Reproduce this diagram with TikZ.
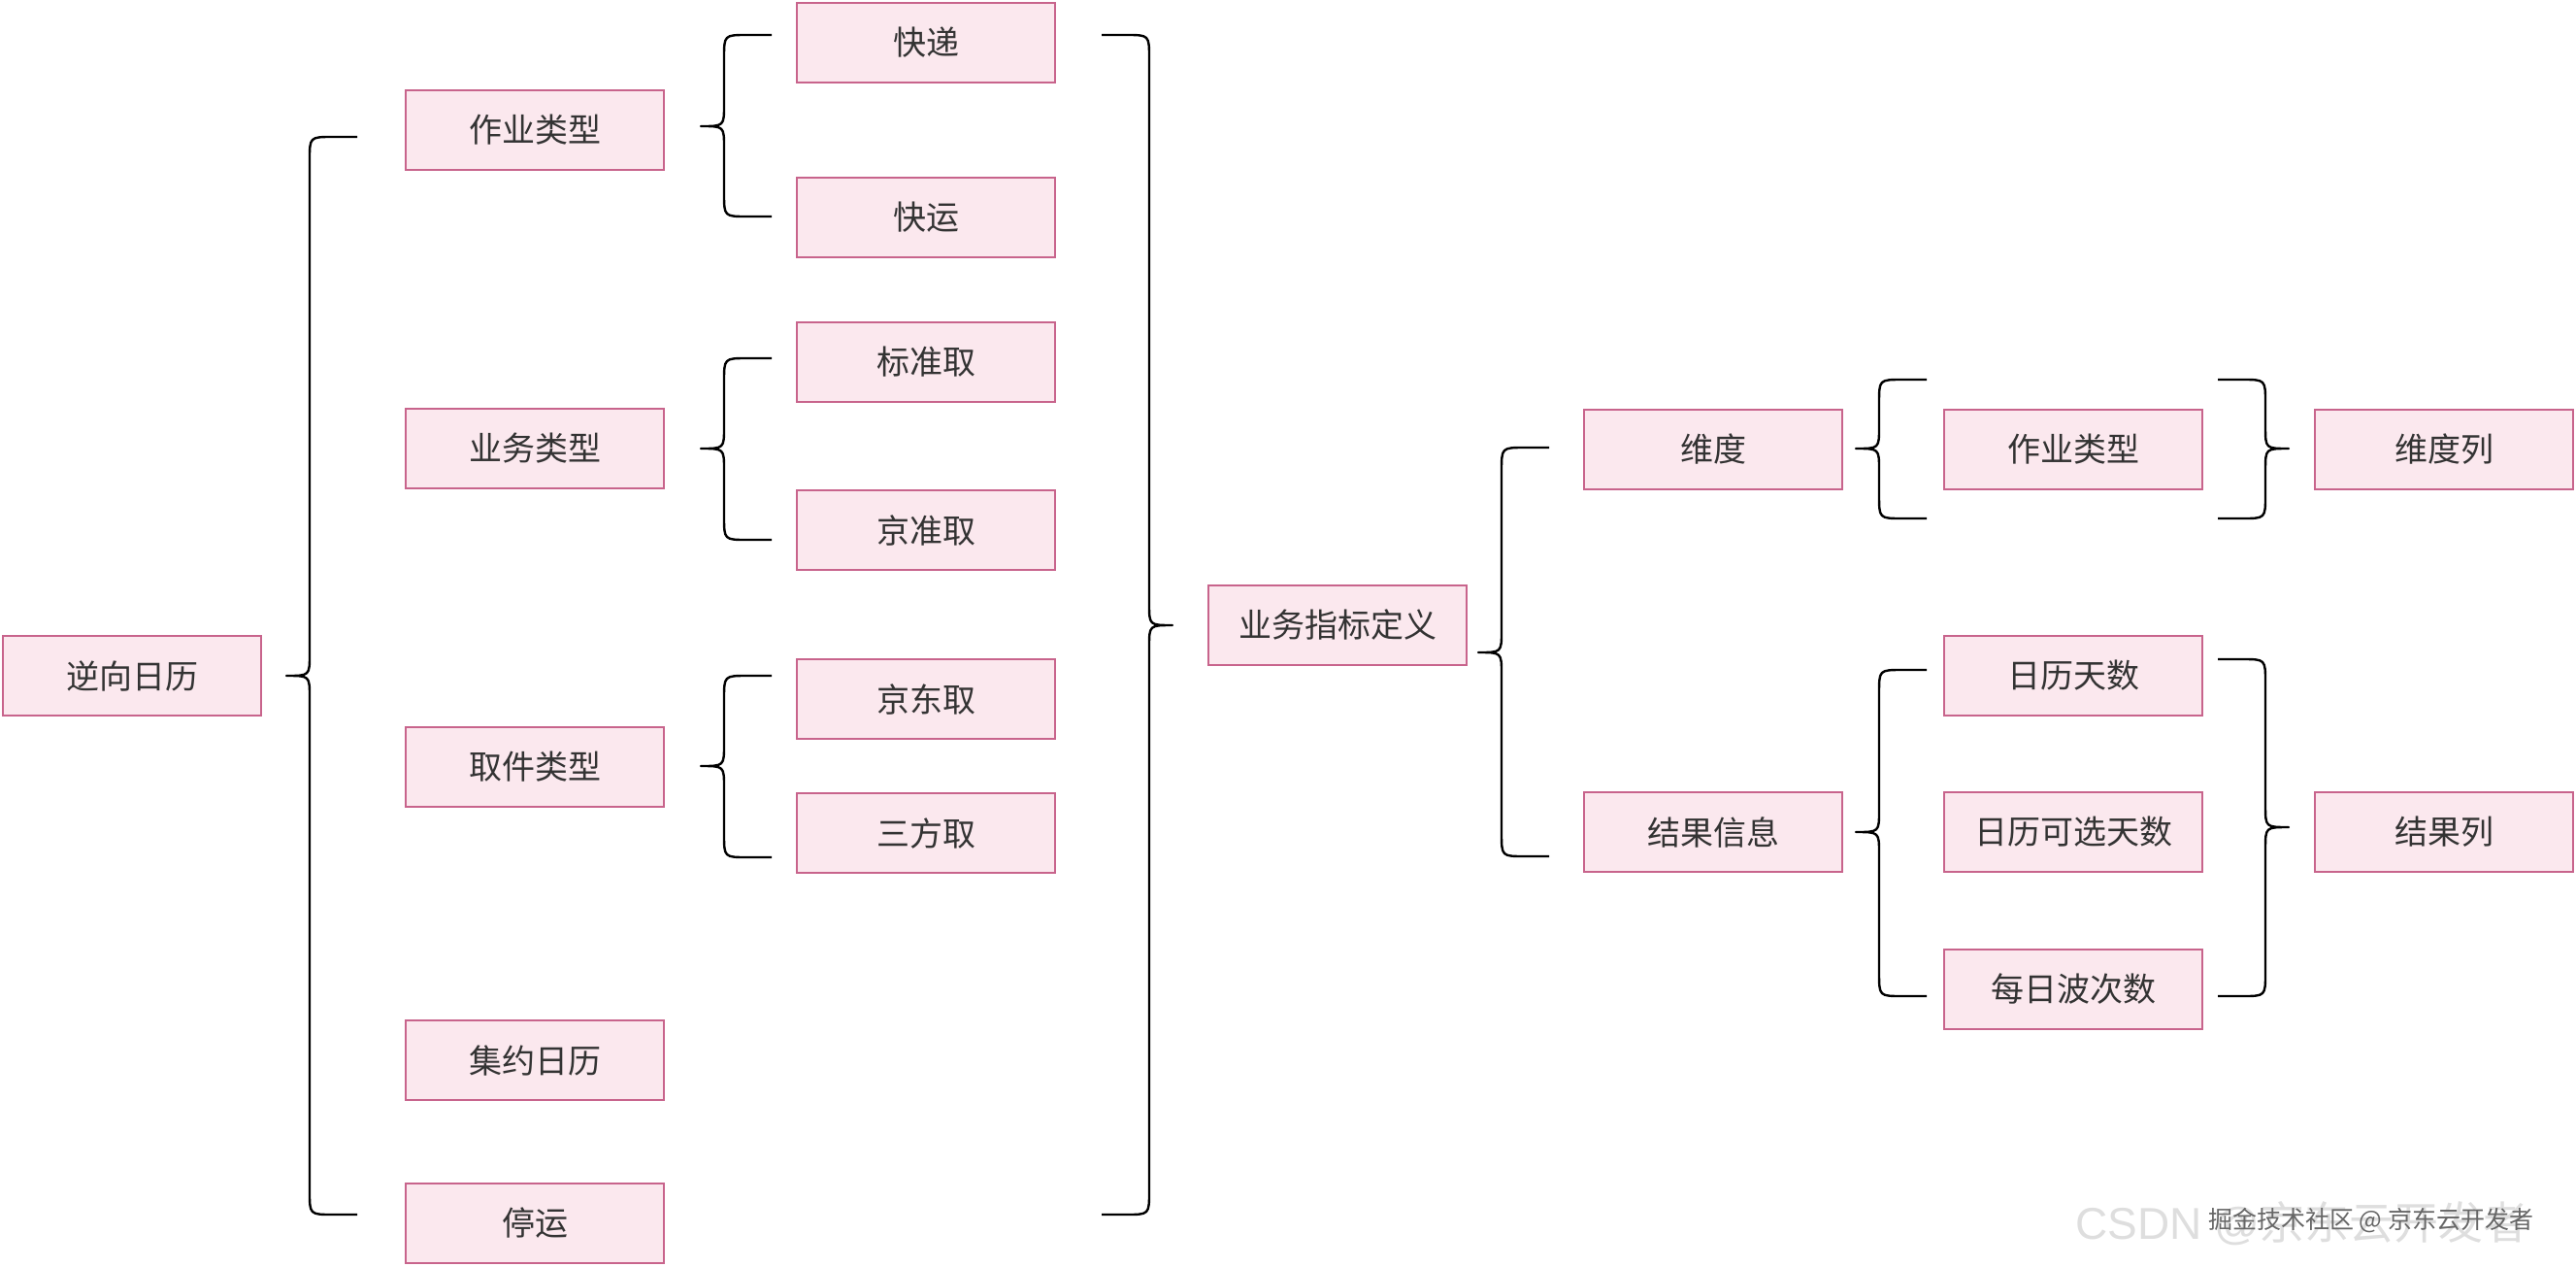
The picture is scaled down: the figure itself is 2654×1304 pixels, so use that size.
\documentclass[tikz,border=0pt]{standalone}
\usepackage{fontspec}
\usepackage{tikz}
\newfontfamily\cjk{Noto Sans CJK SC}
\newfontfamily\wmfont{Liberation Sans}

\definecolor{cellfill}{RGB}{251,232,238}
\definecolor{cellline}{RGB}{200,100,140}
\definecolor{celltext}{RGB}{51,51,51}

% curly brace, tip on the left: tip x, tip y, top y, bottom y
\newcommand{\bracel}[4]{%
  \draw[brace] (#1+73,#3) -- (#1+48,#3) .. controls (#1+24,#3) .. (#1+24,#3+24)
    -- (#1+24,#2-22) .. controls (#1+24,#2) .. (#1,#2)
    .. controls (#1+24,#2) .. (#1+24,#2+22)
    -- (#1+24,#4-24) .. controls (#1+24,#4) .. (#1+48,#4) -- (#1+73,#4);}
% curly brace, tip on the right
\newcommand{\bracer}[4]{%
  \draw[brace] (#1-73,#3) -- (#1-48,#3) .. controls (#1-24,#3) .. (#1-24,#3+24)
    -- (#1-24,#2-22) .. controls (#1-24,#2) .. (#1,#2)
    .. controls (#1-24,#2) .. (#1-24,#2+22)
    -- (#1-24,#4-24) .. controls (#1-24,#4) .. (#1-48,#4) -- (#1-73,#4);}

\begin{document}
\begin{tikzpicture}[x=1pt,y=-1pt,
        cell/.style={draw=cellline,fill=cellfill,line width=2pt,minimum width=266pt,
            minimum height=82pt,inner sep=0pt,text=celltext,font=\cjk\fontsize{34}{40}\selectfont},
        brace/.style={draw=black,line width=2.4pt,line join=round}
    ]
    \useasboundingbox (0,0) rectangle (2654,1304);

    %--- left tree ---
    \node[cell] (nxrl) at (136,696) {逆向日历};
    \node[cell] (zylx) at (551,134) {作业类型};
    \node[cell] (ywlx) at (551,462) {业务类型};
    \node[cell] (qjlx) at (551,790) {取件类型};
    \node[cell] (jyrl) at (551,1092) {集约日历};
    \node[cell] (ty)   at (551,1260) {停运};
    \node[cell] (kd)   at (954,44)  {快递};
    \node[cell] (ky)   at (954,224) {快运};
    \node[cell] (bzq)  at (954,373) {标准取};
    \node[cell] (jzq)  at (954,546) {京准取};
    \node[cell] (jdq)  at (954,720) {京东取};
    \node[cell] (sfq)  at (954,858) {三方取};

    %--- right tree ---
    \node[cell] (ywzb)  at (1378,644) {业务指标定义};
    \node[cell] (wd)    at (1765,463) {维度};
    \node[cell] (jgxx)  at (1765,857) {结果信息};
    \node[cell] (zylxb) at (2136,463) {作业类型};
    \node[cell] (rlts)  at (2136,696) {日历天数};
    \node[cell] (rlkx)  at (2136,857) {日历可选天数};
    \node[cell] (mrbc)  at (2136,1019) {每日波次数};
    \node[cell] (wdl)   at (2518,463) {维度列};
    \node[cell] (jgl)   at (2518,857) {结果列};

    %--- braces ---
    \bracel{295}{696}{141}{1251}
    \bracel{722}{130}{36}{223}
    \bracel{722}{462}{369}{556}
    \bracel{722}{789}{696}{883}
    \bracer{1208}{644}{36}{1251}
    \bracel{1523}{672}{461}{882}
    \bracel{1912}{462}{391}{534}
    \bracer{2358}{462}{391}{534}
    \bracel{1912}{857}{690}{1026}
    \bracer{2358}{852}{679}{1026}

    %--- watermark ---
    \node[anchor=west,text=black!13,font=\wmfont\fontsize{46}{52}\selectfont,inner sep=0pt]
        (wma) at (2138,1260) {CSDN @\cjk 京东云开发者};
    \node[anchor=west,text=black!60,font=\cjk\fontsize{25}{28}\selectfont,inner sep=0pt]
        (wmb) at (2275,1257) {掘金技术社区 @ 京东云开发者};
\end{tikzpicture}
\end{document}
